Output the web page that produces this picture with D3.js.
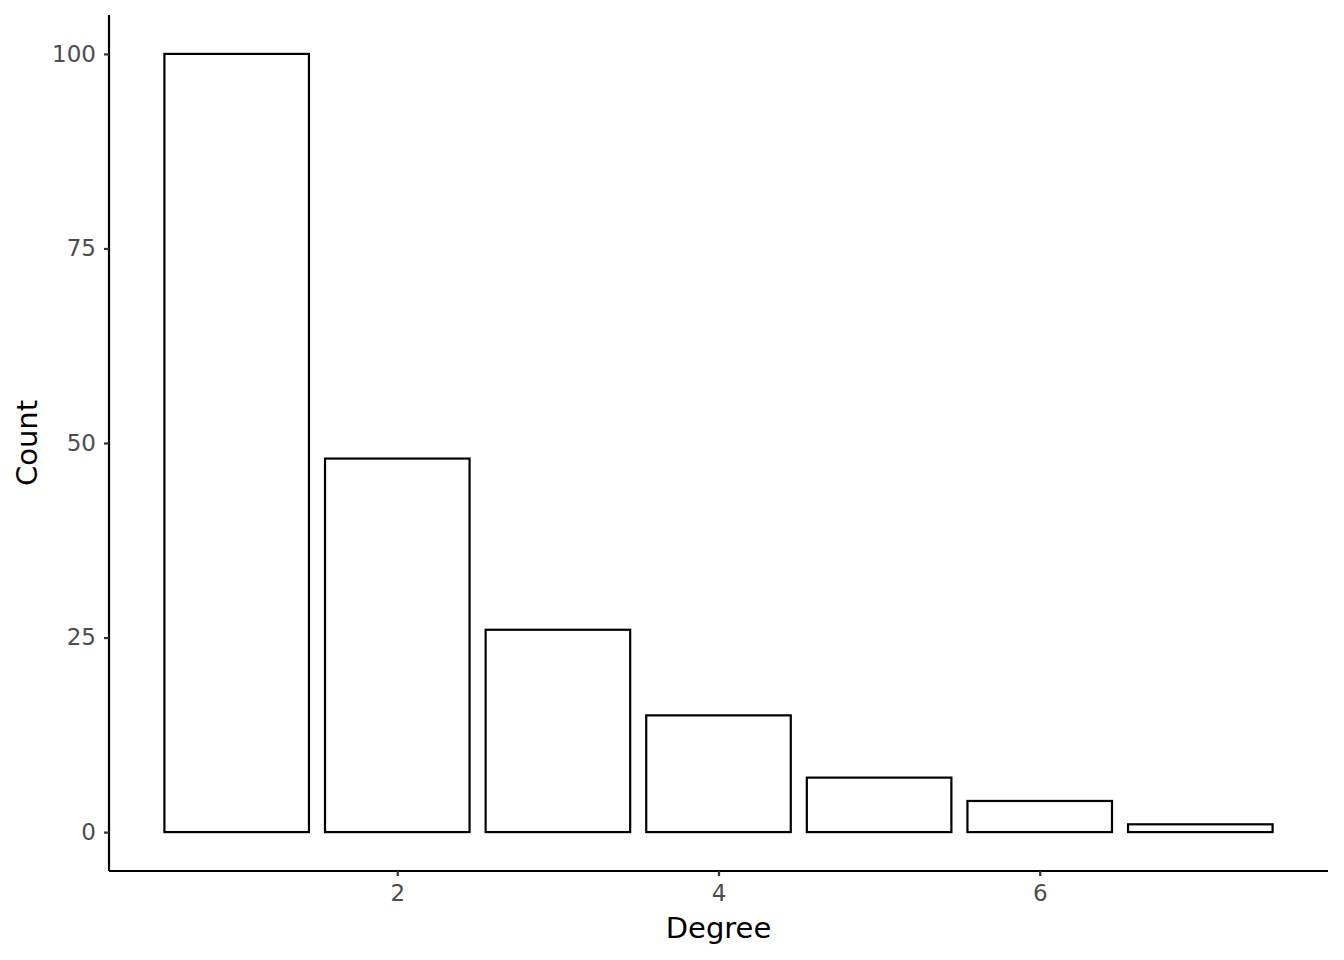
<!DOCTYPE html>
<html><head><meta charset="utf-8">
<script src="https://cdn.jsdelivr.net/npm/d3@7"></script>
<style>body{margin:0;background:#fff}svg{display:block}text{font-family:"DejaVu Sans",sans-serif}</style>
</head><body><svg id="c" width="1344" height="960"></svg>
<script>
const degrees = [1,2,3,4,5,6,7];
const counts = [100,48,26,15,7,4,1];
const xTicks = [2,4,6];
const yTicks = [0,25,50,75,100];

const svg = d3.select("#c");
const m = {l:109, r:1328, t:15, b:871};
const x = d3.scaleLinear().domain([0.205,7.795]).range([m.l,m.r]);
const y = d3.scaleLinear().domain([-5,105]).range([m.b,m.t]);
const bw = 0.9;

svg.append("g").selectAll("rect").data(degrees).join("rect")
  .attr("x",(d)=>x(d-bw/2)).attr("width",(d)=>x(d+bw/2)-x(d-bw/2))
  .attr("y",(d,i)=>y(counts[i])).attr("height",(d,i)=>y(0)-y(counts[i]))
  .attr("fill","#fff").attr("stroke","#000").attr("stroke-width",2.2);

const xa = svg.append("g").attr("transform",`translate(0,${m.b})`)
  .call(d3.axisBottom(x).tickValues(xTicks).tickSize(5).tickPadding(8.5).tickFormat(d3.format("d")));
const ya = svg.append("g").attr("transform",`translate(${m.l},0)`)
  .call(d3.axisLeft(y).tickValues(yTicks).tickSize(5).tickPadding(8).tickFormat(d3.format("d")));
[xa,ya].forEach(a=>{
  a.select(".domain").attr("stroke","#000").attr("stroke-width",2.2);
  a.selectAll(".tick line").attr("stroke","#333").attr("stroke-width",2.2);
  a.selectAll(".tick text").attr("fill","#4d4d4d").style("font-size","23px").style("font-family","DejaVu Sans");
});
xa.selectAll(".domain").attr("d",`M${m.l},0H${m.r}`);
ya.selectAll(".domain").attr("d",`M0,${m.t}V${m.b}`);

svg.append("text").attr("x",(m.l+m.r)/2).attr("y",938).attr("text-anchor","middle")
  .style("font-size","29px").attr("fill","#000").text("Degree");
svg.append("text").attr("transform",`translate(37,${(m.t+m.b)/2}) rotate(-90)`).attr("text-anchor","middle")
  .style("font-size","29px").attr("fill","#000").text("Count");
</script></body></html>
